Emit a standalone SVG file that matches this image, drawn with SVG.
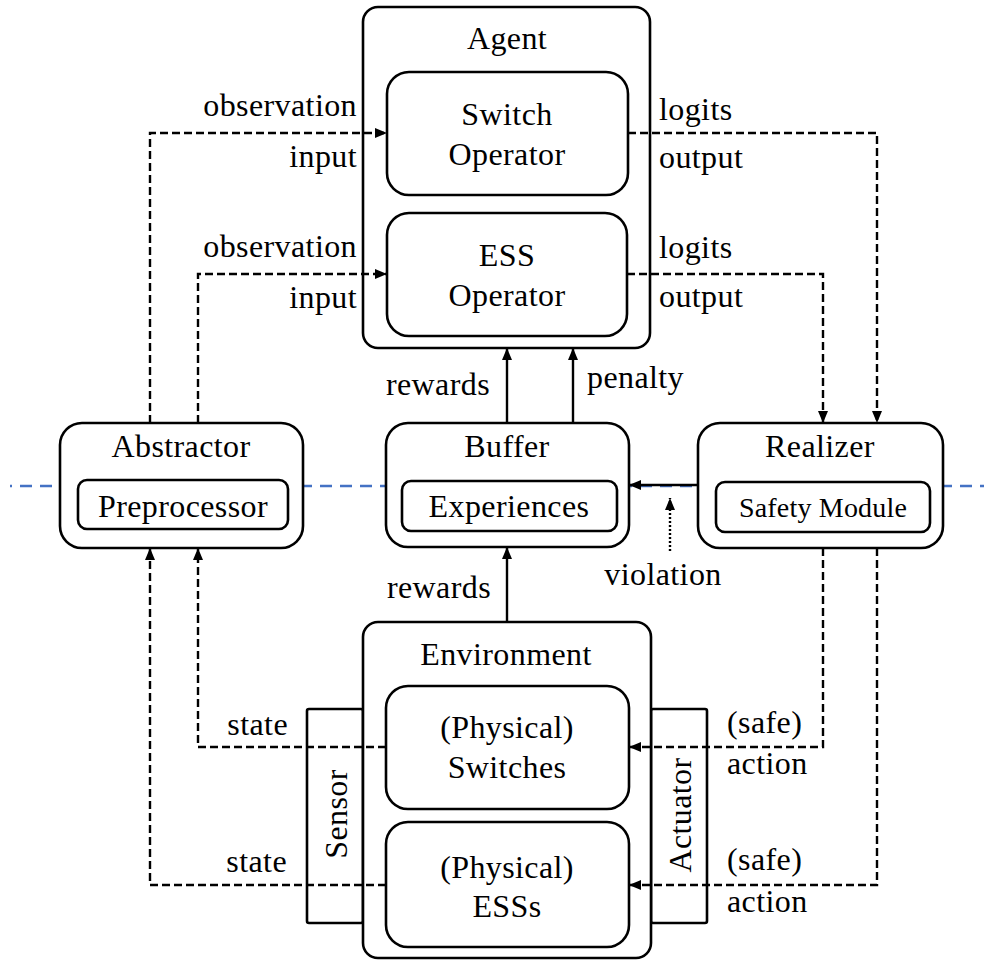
<svg xmlns="http://www.w3.org/2000/svg" width="984" height="966" viewBox="0 0 984 966">
  <style>
    .box { fill: #ffffff; stroke: #000000; stroke-width: 2.6; }
    .t { font-family: "Liberation Serif", "Times New Roman", serif; font-size: 32px; letter-spacing: 0.4px; fill: #000000; }
    .mid { text-anchor: middle; }
    .end { text-anchor: end; }
    .small { font-size: 28px; letter-spacing: 0.2px; }
    .solid { fill: none; stroke: #000000; stroke-width: 2.4; }
    .dash { fill: none; stroke: #000000; stroke-width: 2.4; stroke-dasharray: 8 4; }
    .dot { fill: none; stroke: #000000; stroke-width: 2.4; stroke-dasharray: 2 2; }
    .divider { stroke: #4472c4; stroke-width: 2.4; stroke-dasharray: 12 8; stroke-dashoffset: 10; }
  </style>
  <defs>
    <marker id="arrow" markerUnits="userSpaceOnUse" markerWidth="13" markerHeight="11" refX="12" refY="5.5" orient="auto">
      <path d="M0,0.5 L12,5.5 L0,10.5 z" fill="#000000"/>
    </marker>
  </defs>

  <rect width="984" height="966" fill="#ffffff"/>

  <!-- horizontal divider -->
  <line class="divider" x1="10" y1="486" x2="984" y2="486"/>

  <g id="agent">
    <rect class="box" x="363" y="7" width="287" height="341" rx="15"/>
    <text class="t mid" x="507" y="49">Agent</text>
  </g>
  <g id="switch-operator">
    <rect class="box" x="387" y="72" width="241" height="123" rx="22"/>
    <text class="t mid" x="507" y="125">Switch</text>
    <text class="t mid" x="507" y="165">Operator</text>
  </g>
  <g id="ess-operator">
    <rect class="box" x="387" y="213" width="240" height="123" rx="22"/>
    <text class="t mid" x="507" y="266">ESS</text>
    <text class="t mid" x="507" y="306">Operator</text>
  </g>

  <g id="abstractor">
    <rect class="box" x="60" y="423" width="243" height="125" rx="22"/>
    <text class="t mid" x="181" y="457">Abstractor</text>
    <rect class="box" x="78" y="480" width="210" height="49" rx="9"/>
    <text class="t mid" x="183" y="517">Preprocessor</text>
  </g>

  <g id="buffer">
    <rect class="box" x="386" y="423" width="243" height="124" rx="22"/>
    <text class="t mid" x="507" y="457">Buffer</text>
    <rect class="box" x="402" y="481" width="215" height="50" rx="9"/>
    <text class="t mid" x="509" y="517">Experiences</text>
  </g>

  <g id="realizer">
    <rect class="box" x="698" y="423" width="245" height="125" rx="22"/>
    <text class="t mid" x="820" y="457">Realizer</text>
    <rect class="box" x="716" y="482" width="214" height="50" rx="9"/>
    <text class="t mid small" x="823" y="517">Safety Module</text>
  </g>

  <g id="sensor">
    <rect class="box" x="307" y="709" width="56" height="214" rx="2"/>
    <text class="t mid" transform="translate(347,814) rotate(-90)">Sensor</text>
  </g>
  <g id="actuator">
    <rect class="box" x="651" y="709" width="56" height="214" rx="2"/>
    <text class="t mid" transform="translate(691,815) rotate(-90)">Actuator</text>
  </g>

  <g id="environment">
    <rect class="box" x="363" y="622" width="288" height="336" rx="15"/>
    <text class="t mid" x="506" y="665">Environment</text>
  </g>
  <g id="physical-switches">
    <rect class="box" x="386" y="686" width="243" height="123" rx="22"/>
    <text class="t mid" x="507" y="738">(Physical)</text>
    <text class="t mid" x="507" y="778">Switches</text>
  </g>
  <g id="physical-esss">
    <rect class="box" x="386" y="822" width="243" height="125" rx="22"/>
    <text class="t mid" x="507" y="878">(Physical)</text>
    <text class="t mid" x="507" y="917">ESSs</text>
  </g>

  <g id="connectors">
    <!-- observations into the agent -->
    <path class="dash" d="M150,423 V133 H387" marker-end="url(#arrow)"/>
    <path class="dash" d="M198,423 V274 H387" marker-end="url(#arrow)"/>
    <!-- logits out of the agent -->
    <path class="dash" d="M628,133 H877 V423" marker-end="url(#arrow)"/>
    <path class="dash" d="M627,274 H823 V423" marker-end="url(#arrow)"/>
    <!-- rewards / penalty into the agent -->
    <path class="solid" d="M507,423 V348" marker-end="url(#arrow)"/>
    <path class="solid" d="M573,423 V348" marker-end="url(#arrow)"/>
    <!-- rewards from environment into buffer -->
    <path class="solid" d="M507,622 V547" marker-end="url(#arrow)"/>
    <!-- realizer to buffer -->
    <path class="solid" d="M698,485 H629" marker-end="url(#arrow)"/>
    <!-- violation -->
    <path class="dot" d="M670,551 V498" marker-end="url(#arrow)"/>
    <!-- state from environment to abstractor -->
    <path class="dash" d="M386,747 H198 V548" marker-end="url(#arrow)"/>
    <path class="dash" d="M386,885 H150 V548" marker-end="url(#arrow)"/>
    <!-- actions from realizer to environment -->
    <path class="dash" d="M823,548 V747 H629" marker-end="url(#arrow)"/>
    <path class="dash" d="M877,548 V885 H629" marker-end="url(#arrow)"/>
  </g>

  <g id="labels">
    <text class="t end" x="357" y="116">observation</text>
    <text class="t end" x="357" y="167">input</text>
    <text class="t end" x="357" y="257">observation</text>
    <text class="t end" x="357" y="308">input</text>
    <text class="t" x="659" y="120">logits</text>
    <text class="t" x="659" y="168">output</text>
    <text class="t" x="659" y="258">logits</text>
    <text class="t" x="659" y="307">output</text>
    <text class="t end" x="490" y="395">rewards</text>
    <text class="t" x="587" y="388">penalty</text>
    <text class="t end" x="491" y="598">rewards</text>
    <text class="t mid" x="663" y="585">violation</text>
    <text class="t end" x="288" y="735">state</text>
    <text class="t end" x="287" y="872">state</text>
    <text class="t" x="727" y="733">(safe)</text>
    <text class="t" x="727" y="774">action</text>
    <text class="t" x="727" y="870">(safe)</text>
    <text class="t" x="727" y="912">action</text>
  </g>
</svg>
